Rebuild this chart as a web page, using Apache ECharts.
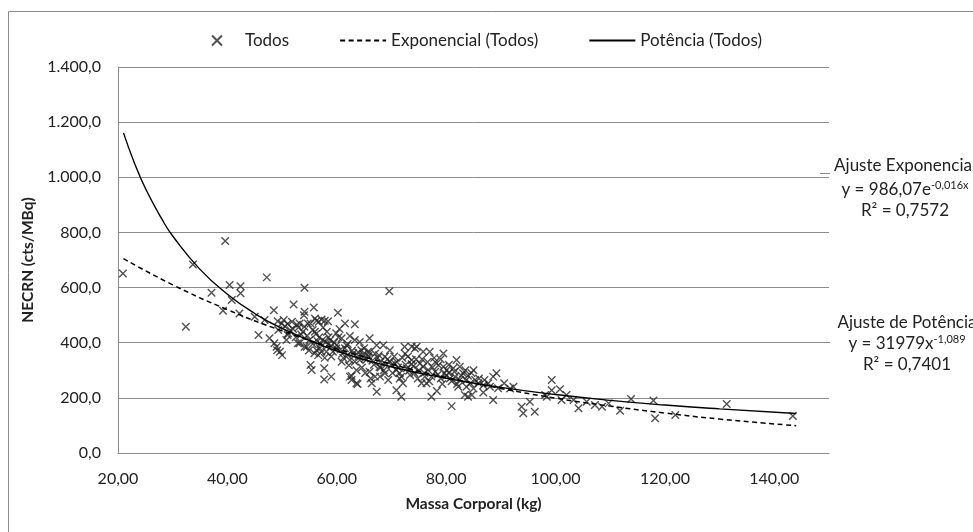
<!DOCTYPE html>
<html><head><meta charset="utf-8">
<script src="https://cdn.jsdelivr.net/npm/echarts@6/dist/echarts.min.js"></script>
<style>html,body{margin:0;padding:0;background:#fff}#c{width:973px;height:532px}</style>
</head><body><div id="c"></div>
<script>
// Scatter "Todos": body mass (kg) and NECRN (cts/MBq)
const massaTodos = [20.9,32.4,33.7,37.1,39.6,40.4,42.4,42.4,39.2,40.8,42.2,
45.0,45.7,46.8,47.2,47.7,48.5,48.6,49.0,49.1,49.6,50.0,49.9,
49.2,50.3,51.0,51.8,52.7,49.3,51.1,51.0,
52.1,54.1,55.8,54.1,54.0,
53.2,54.1,54.7,
56.0,56.3,56.7,57.2,57.8,58.4,
55.6,56.2,56.8,57.4,58.0,
52.9,54.1,54.5,53.2,
56.3,56.6,57.2,58.1,59.3,59.9,
55.2,55.4,57.7,57.7,59.0,62.7,63.6,
59.9,60.2,63.3,
60.9,62.4,63.3,64.2,66.0,67.3,68.5,69.7,
60.9,62.4,63.3,64.2,65.1,65.7,64.5,
62.4,62.7,63.8,
66.0,67.0,67.9,68.8,69.4,66.4,67.3,
68.8,69.7,70.6,
70.9,71.5,71.8,72.1,72.8,73.4,73.7,73.7,74.3,74.6,72.4,
70.9,71.8,73.7,74.0,
75.8,77.0,
75.2,75.8,76.7,77.3,75.5,76.4,76.1,
79.5,79.5,80.1,77.3,81.0,
69.6,
81.9,82.5,81.3,83.1,81.6,82.5,83.7,84.4,83.7,85.0,
83.4,84.0,84.7,
85.3,85.9,86.8,87.7,86.8,88.6,88.6,89.2,
90.6,91.7,92.3,
93.8,94.1,95.3,96.2,
98.1,98.4,99.3,99.3,100.8,101.1,102.0,
103.3,104.2,105.7,107.2,108.5,109.7,
111.8,113.8,117.9,118.2,121.9,131.3,143.4,
58.5,59.0,60.0,61.5,61.0,62.0,63.0,64.0,65.5,66.5,67.5,68.0,69.0,70.0,71.0,72.0,72.5,73.0,74.5,75.0,
76.0,77.5,78.0,78.5,79.0,80.0,80.5,81.0,82.0,80.5,78.0,79.0,84.0,85.0,86.0,87.0,88.0,89.5,57.0,58.5,
55.0,53.5,52.0,50.8,56.0,60.5,61.5,62.0,65.0,66.0,67.0,68.0,70.5,71.5,
50.5,51.5,52.5,53.0,53.8,54.6,55.2,55.6,56.5,57.5,58.2,58.8,59.5,60.3,59.0,57.8,56.9,55.9,54.9,
60.7,61.8,62.8,63.9,64.8,65.8,66.8,67.8,68.6,69.3,61.2,62.2,63.6,64.6,65.2,66.2,67.7,
70.2,71.2,72.6,73.2,74.2,74.8,75.6,76.6,77.8,78.6,79.7,80.7,81.5,82.8,83.5,84.6,82.2,79.3,76.9,78.3];
const necrnTodos = [651,458,684,581,769,609,605,579,516,555,506,
494,428,482,637,416,518,398,385,373,367,355,470,
478,482,468,476,465,446,434,428,
539,599,528,512,500,
470,458,470,
488,480,476,484,480,478,
446,432,420,410,403,
398,385,385,398,
373,355,367,367,367,379,
319,301,307,267,277,279,253,
434,509,467,
416,424,410,403,416,391,391,373,
331,337,331,337,343,367,373,
277,265,250,
295,277,277,289,265,253,222,
349,331,325,
301,289,277,253,307,283,337,385,379,385,385,
228,204,322,315,
367,367,
325,313,301,277,253,253,277,
361,313,301,204,170,
587,
337,313,307,289,277,265,265,253,240,234,
210,204,210,
265,253,246,253,219,192,277,289,
253,234,240,
168,144,186,150,
210,204,265,228,231,192,210,
192,162,186,174,168,180,
153,196,190,126,138,178,134,
395,388,392,380,360,355,362,352,340,335,345,330,320,318,330,345,360,350,340,300,
290,310,295,285,270,280,290,260,250,320,330,340,280,300,270,265,240,235,395,420,
410,430,450,410,440,450,470,395,380,365,360,310,350,270,
460,445,420,455,440,425,470,395,405,455,440,410,400,420,350,345,380,362,372,
375,390,372,365,358,352,320,312,300,340,345,318,300,310,290,270,355,
290,310,320,298,290,270,340,330,345,318,290,270,295,280,300,290,240,250,260,225];

// Trend lines, points
const expX = [21, 30, 40, 50, 60, 70, 80, 90, 100, 110, 120, 130, 144];
const expY = [705, 610, 520, 443, 378, 322, 274, 234, 199, 170, 145, 123, 99];
const powX = [21, 23, 25, 28, 30, 35, 40, 45, 50, 60, 70, 80, 90, 100, 110, 120, 130, 144];
const powY = [1161, 1052, 960, 849, 787, 666, 576, 506, 452, 370, 313, 271, 238, 212, 191, 174, 160, 143];

// Axis ticks and texts
const xMin = 20, xMax = 150, xStep = 20;
const yMin = 0, yMax = 1400, yStep = 200;
const legendNames = ['Todos', 'Exponencial (Todos)', 'Potência (Todos)'];
const xTitle = 'Massa Corporal (kg)';
const yTitle = 'NECRN (cts/MBq)';

const FONT = 'Lato';
const crossPath = 'path://M0,0L10,10M10,0L0,10';

function pairs(xs, ys) { return xs.map((x, i) => [x, ys[i]]); }
function fmtY(v) {
  const s = v.toFixed(1).split('.');
  return s[0].replace(/\B(?=(\d{3})+(?!\d))/g, '.') + ',' + s[1];
}
function fmtX(v) { return v === xMax ? '' : v.toFixed(2).replace('.', ','); }

const supStyle = { fill: '#222', fontSize: 11, fontFamily: FONT, padding: [0, 0, 9, 0] };
const baseStyle = { fill: '#222', fontSize: 17, fontFamily: FONT };

const chart = echarts.init(document.getElementById('c'));
chart.setOption({
  animation: false,
  backgroundColor: '#fff',
  textStyle: { fontFamily: FONT },
  grid: { left: 118, right: 144, top: 67, bottom: 79, containLabel: false },
  legend: {
    left: 206, top: 27,
    itemWidth: 46, itemHeight: 10, itemGap: 50,
    textStyle: { fontFamily: FONT, fontSize: 17, color: '#222' },
    data: [
      { name: legendNames[0] },
      { name: legendNames[1], itemStyle: { opacity: 0 } },
      { name: legendNames[2], itemStyle: { opacity: 0 } }
    ]
  },
  xAxis: {
    type: 'value', min: xMin, max: xMax, interval: xStep,
    axisLine: { show: true, lineStyle: { color: '#8c8c8c', width: 1 } },
    axisTick: { show: false },
    splitLine: { show: false },
    axisLabel: { formatter: fmtX, color: '#222', fontSize: 16, fontFamily: FONT, margin: 18 },
    name: xTitle, nameLocation: 'middle', nameGap: 43,
    nameTextStyle: { fontWeight: 'bold', fontSize: 15.5, color: '#222', fontFamily: FONT }
  },
  yAxis: {
    type: 'value', min: yMin, max: yMax, interval: yStep,
    axisLine: { show: true, lineStyle: { color: '#8c8c8c', width: 1 } },
    axisTick: { show: false },
    splitLine: { show: true, lineStyle: { color: '#8c8c8c', width: 1 } },
    axisLabel: { formatter: fmtY, color: '#222', fontSize: 16, fontFamily: FONT, margin: 17 },
    name: yTitle, nameLocation: 'middle', nameGap: 78,
    nameTextStyle: { fontWeight: 'bold', fontSize: 15.5, color: '#222', fontFamily: FONT }
  },
  series: [
    {
      name: legendNames[0], type: 'scatter',
      data: pairs(massaTodos, necrnTodos),
      symbol: crossPath, symbolSize: 7.5, symbolKeepAspect: true,
      itemStyle: { color: 'rgba(0,0,0,0)', borderColor: '#262626', borderWidth: 1.4 },
      z: 3
    },
    {
      name: legendNames[1], type: 'line', smooth: true,
      data: pairs(expX, expY), symbol: 'none',
      lineStyle: { color: '#000', width: 1.5, type: [5, 3.5] },
      itemStyle: { color: '#000' },
      z: 4
    },
    {
      name: legendNames[2], type: 'line', smooth: true,
      data: pairs(powX, powY), symbol: 'none',
      lineStyle: { color: '#000', width: 1.4 },
      itemStyle: { color: '#000' },
      z: 4
    }
  ],
  graphic: [
    { type: 'rect', shape: { x: 8.5, y: 11.5, width: 1200, height: 800 },
      style: { fill: 'none', stroke: '#8c8c8c', lineWidth: 1 }, silent: true, z: -10 },
    { type: 'line', shape: { x1: 820, y1: 173.5, x2: 830, y2: 173.5 }, style: { stroke: '#8c8c8c', lineWidth: 1 } },
    { type: 'line', shape: { x1: 820, y1: 342.5, x2: 830, y2: 342.5 }, style: { stroke: '#8c8c8c', lineWidth: 1 } },
    { type: 'text', x: 905, y: 166, style: { text: 'Ajuste Exponencial', fill: '#222', font: '17px Lato', align: 'center', verticalAlign: 'middle' } },
    { type: 'text', x: 905, y: 190, style: {
        text: '{b|y = 986,07e}{s|-0,016x}', align: 'center', verticalAlign: 'middle',
        rich: { b: baseStyle, s: supStyle } } },
    { type: 'text', x: 905, y: 211, style: { text: 'R² = 0,7572', fill: '#222', font: '17px Lato', align: 'center', verticalAlign: 'middle' } },
    { type: 'text', x: 907, y: 323, style: { text: 'Ajuste de Potência', fill: '#222', font: '17px Lato', align: 'center', verticalAlign: 'middle' } },
    { type: 'text', x: 907, y: 344, style: {
        text: '{b|y = 31979x}{s|-1,089}', align: 'center', verticalAlign: 'middle',
        rich: { b: baseStyle, s: supStyle } } },
    { type: 'text', x: 907, y: 365, style: { text: 'R² = 0,7401', fill: '#222', font: '17px Lato', align: 'center', verticalAlign: 'middle' } }
  ]
});
</script>
</body></html>
